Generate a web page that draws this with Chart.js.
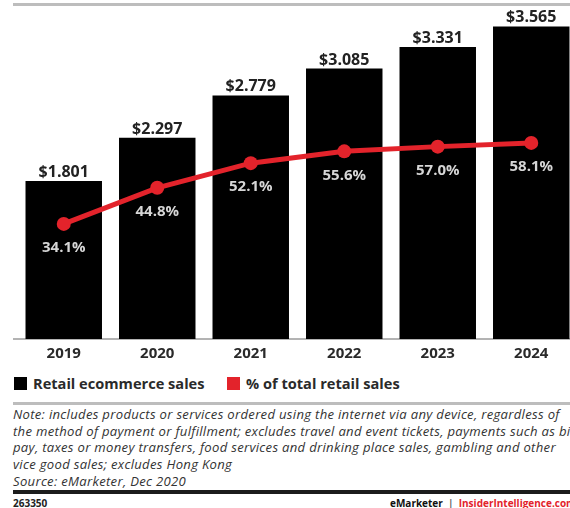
<!DOCTYPE html>
<html>
<head>
<meta charset="utf-8">
<script src="https://cdn.jsdelivr.net/npm/chart.js@4.4.1/dist/chart.umd.min.js"></script>
<style>
  html, body { margin: 0; padding: 0; background: #fff; }
  body { width: 570px; height: 508px; overflow: hidden; position: relative; font-family: "Open Sans", sans-serif; }
  #chart { position: absolute; left: 0; top: 0; }
  .rule { position: absolute; left: 13px; width: 600px; }
  .legend-item { position: absolute; top: 374px; height: 18px; display: flex; align-items: center; font-size: 14.6px; font-weight: 700; color: #2a2a2a; white-space: nowrap; }
  .legend-item .box { width: 13px; height: 13px; display: inline-block; margin-right: 6px; }
  .note { position: absolute; left: 13px; top: 406px; font-size: 13.1px; letter-spacing: 0.3px; font-style: italic; color: #333; line-height: 16.7px; white-space: nowrap; }
  .footer { position: absolute; top: 497px; font-size: 10px; font-weight: 700; white-space: nowrap; line-height: 12px; }
</style>
</head>
<body>
<div class="rule" style="top:3px;height:3px;background:#bdbdbd;"></div>
<canvas id="chart" width="582" height="365"></canvas>

<div class="legend-item" style="left:14px;"><span class="box" style="background:#000"></span>Retail ecommerce sales</div>
<div class="legend-item" style="left:227px;"><span class="box" style="background:#e3232b"></span>% of total retail sales</div>

<div class="rule" style="top:402px;height:2.5px;background:#bdbdbd;"></div>
<div class="note">
  Note: includes products or services ordered using the internet via any device, regardless of<br>
  the method of payment or fulfillment; excludes travel and event tickets, payments such as bill<br>
  pay, taxes or money transfers, food services and drinking place sales, gambling and other<br>
  vice good sales; excludes Hong Kong<br>
  Source: eMarketer, Dec 2020
</div>
<div class="rule" style="top:490px;height:4px;background:#1c1c1c;"></div>
<div class="footer" style="left:13px;color:#222;">263350</div>
<div class="footer" style="left:390px;"><span style="color:#111">eMarketer</span><span style="color:#666">&nbsp;&nbsp;|&nbsp;&nbsp;</span><span style="color:#e3232b">InsiderIntelligence.com</span></div>

<script>
// Years, ecommerce sales (trillions) and share of total retail sales (%)
const years = ['2019', '2020', '2021', '2022', '2023', '2024'];
const ecommerceSales = [1.801, 2.297, 2.779, 3.085, 3.331, 3.565];
const shareOfRetail = [34.1, 44.8, 52.1, 55.6, 57.0, 58.1];

const RED = '#e3232b';
const FONT = '"Open Sans", sans-serif';

// Baseline rule under the bars, running slightly past the plot's left edge
const baselinePlugin = {
  id: 'baseline',
  beforeDatasetsDraw(chart) {
    const { ctx, chartArea, scales } = chart;
    const y = scales.y.getPixelForValue(0);
    ctx.save();
    ctx.strokeStyle = '#9a9a9a';
    ctx.lineWidth = 1.5;
    ctx.beginPath();
    ctx.moveTo(chartArea.left - 4, y);
    ctx.lineTo(chart.width, y);
    ctx.stroke();
    ctx.restore();
  }
};

// Value labels: dollar amounts above bars, percentages under line points
const valueLabels = {
  id: 'valueLabels',
  afterDatasetsDraw(chart) {
    const { ctx } = chart;
    ctx.save();
    ctx.textAlign = 'center';

    const barMeta = chart.getDatasetMeta(0);
    ctx.font = `700 16px ${FONT}`;
    ctx.fillStyle = '#222';
    ctx.textBaseline = 'alphabetic';
    barMeta.data.forEach((bar, i) => {
      const v = chart.data.datasets[0].data[i];
      ctx.fillText('$' + v.toFixed(3), bar.x, bar.y - 4);
    });

    const lineMeta = chart.getDatasetMeta(1);
    ctx.font = `700 15px ${FONT}`;
    ctx.fillStyle = '#d6d6d6';
    ctx.textBaseline = 'middle';
    lineMeta.data.forEach((pt, i) => {
      const v = chart.data.datasets[1].data[i];
      ctx.fillText(v.toFixed(1) + '%', pt.x, pt.y + 24);
    });
    ctx.restore();
  }
};

new Chart(document.getElementById('chart'), {
  data: {
    labels: years,
    datasets: [
      {
        type: 'bar',
        label: 'Retail ecommerce sales',
        data: ecommerceSales,
        backgroundColor: '#000',
        borderWidth: 0,
        categoryPercentage: 1,
        barPercentage: 0.818,
        yAxisID: 'y',
        order: 2
      },
      {
        type: 'line',
        label: '% of total retail sales',
        data: shareOfRetail,
        borderColor: RED,
        backgroundColor: RED,
        borderWidth: 5,
        pointRadius: 7,
        pointBackgroundColor: RED,
        pointBorderWidth: 0,
        tension: 0,
        yAxisID: 'y2',
        order: 1
      }
    ]
  },
  options: {
    responsive: false,
    animation: false,
    layout: { autoPadding: false, padding: { left: 17, right: 4, top: 1.5, bottom: 0 } },
    plugins: { legend: { display: false }, tooltip: { enabled: false } },
    scales: {
      x: {
        grid: { display: false, drawTicks: false },
        border: { display: false },
        ticks: { color: '#2a2a2a', font: { family: FONT, size: 15, weight: '700' }, padding: 6 },
        afterFit(scale) { scale.height = 26; }
      },
      y: { display: false, min: 0, max: 3.85 },
      y2: { display: false, min: 0, max: 100 }
    }
  },
  plugins: [baselinePlugin, valueLabels]
});
</script>
</body>
</html>
